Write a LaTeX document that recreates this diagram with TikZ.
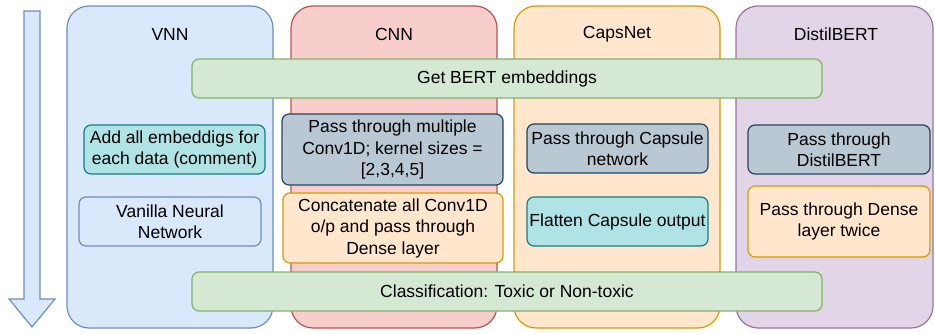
\documentclass[tikz,border=0pt]{standalone}
\usepackage{fontspec}
\setmainfont{Liberation Sans}
\usepackage{xcolor}
\usetikzlibrary{positioning}
\definecolor{bluefill}{HTML}{DAE8FC}
\definecolor{bluedraw}{HTML}{6C8EBF}
\definecolor{redfill}{HTML}{F8CECC}
\definecolor{reddraw}{HTML}{B85450}
\definecolor{orangefill}{HTML}{FFE6CC}
\definecolor{orangedraw}{HTML}{D79B00}
\definecolor{purplefill}{HTML}{E1D5E7}
\definecolor{purpledraw}{HTML}{9673A6}
\definecolor{greenfill}{HTML}{D5E8D4}
\definecolor{greendraw}{HTML}{82B366}
\definecolor{tealfill}{HTML}{B0E3E6}
\definecolor{tealdraw}{HTML}{0E8088}
\definecolor{greyfill}{HTML}{BAC8D3}
\definecolor{greydraw}{HTML}{23445D}

\begin{document}
\begin{tikzpicture}[x=1pt, y=-1pt, every path/.style={line width=1.2pt},
    every node/.style={font=\fontsize{17.5}{21.5}\selectfont, align=center, inner sep=2pt},
    column/.style={draw, rounded corners=22pt, minimum width=206pt, minimum height=322pt},
    stepbox/.style={draw, rounded corners=7pt, minimum height=49pt},
    wide/.style={stepbox, fill=greenfill, draw=greendraw, minimum width=630pt, minimum height=39pt}]
    \useasboundingbox (0,0) rectangle (935,334);
    \draw[fill=bluefill, draw=bluedraw] (24,11) -- (40,11) -- (40,299) -- (55,299) -- (32,327) -- (9,299) -- (24,299) -- cycle;
    \node[column, fill=bluefill, draw=bluedraw] (vnn) at (170,167) {};
    \node[column, fill=redfill, draw=reddraw] (cnn) at (394,167) {};
    \node[column, fill=orangefill, draw=orangedraw] (caps) at (617,167) {};
    \node[column, fill=purplefill, draw=purpledraw, minimum width=197pt] (distil) at (834.5,167) {};
    \node (vnnT) at (170,34) {VNN};
    \node (cnnT) at (394,34) {CNN};
    \node (capsT) at (617,34) {CapsNet};
    \node (distilT) at (836,34) {DistilBERT};
    \node[wide] (bert) at (507,78.5) {Get BERT embeddings};
    \node[wide] (cls) at (507,291.5) {Classification: Toxic or Non-toxic};
    \node[stepbox, fill=tealfill, draw=tealdraw, minimum width=181pt] (addemb) at (174.5,149.5) {Add all embeddigs for\\each data (comment)};
    \node[stepbox, fill=bluefill, draw=bluedraw, minimum width=182pt] (vanilla) at (170,221.5) {Vanilla Neural\\Network};
    \node[stepbox, fill=greyfill, draw=greydraw, minimum width=221pt, minimum height=71pt] (conv) at (392.5,149.5) {Pass through multiple\\Conv1D; kernel sizes =\\{[2,3,4,5]}};
    \node[stepbox, fill=orangefill, draw=orangedraw, minimum width=220pt, minimum height=70pt] (concat) at (393,228) {Concatenate all Conv1D\\o/p and pass through\\Dense layer};
    \node[stepbox, fill=greyfill, draw=greydraw, minimum width=181pt] (capsnet) at (617.5,148.5) {Pass through Capsule\\network};
    \node[stepbox, fill=tealfill, draw=tealdraw, minimum width=181pt] (flatten) at (617.5,221.5) {Flatten Capsule output};
    \node[stepbox, fill=greyfill, draw=greydraw, minimum width=182pt] (distilbert) at (839,149.5) {Pass through\\DistilBERT};
    \node[stepbox, fill=orangefill, draw=orangedraw, minimum width=182pt, minimum height=71pt] (dense) at (839,221.5) {Pass through Dense\\layer twice};
\end{tikzpicture}
\end{document}
